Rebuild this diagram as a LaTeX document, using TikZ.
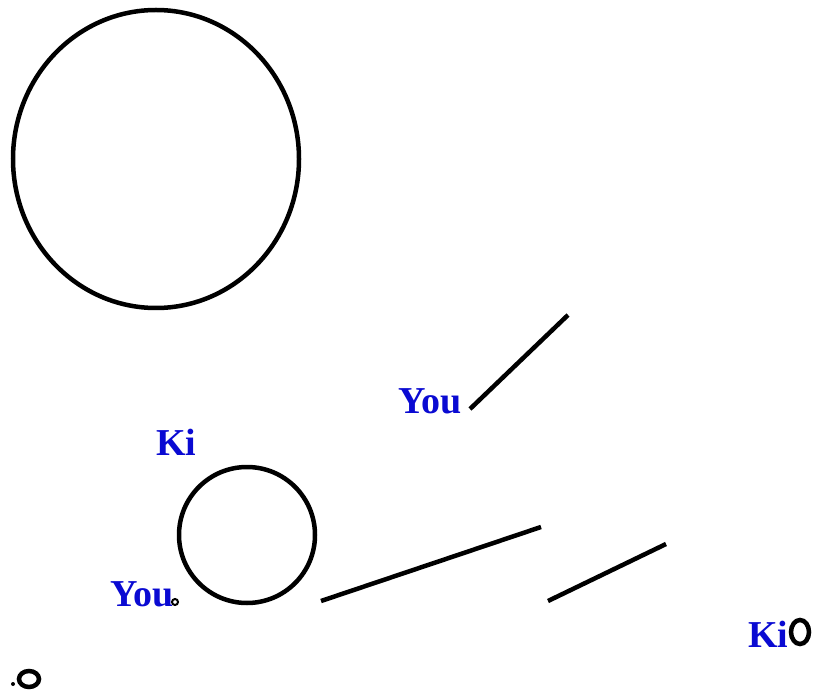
\documentclass[tikz,border=0pt]{standalone}
\usepackage{fontspec}
\setmainfont{Liberation Serif}
\definecolor{labelblue}{RGB}{10,10,210}
\tikzset{
    stroke/.style={line width=4.5pt, black},
    thin stroke/.style={line width=2pt, black},
    name label/.style={text=labelblue, font=\bfseries\fontsize{38}{38}\selectfont, inner sep=0pt, anchor=base west}
}
\begin{document}
\begin{tikzpicture}[x=1pt, y=-1pt]
    \useasboundingbox (0,0) rectangle (816,692);

    % Circles
    \draw[stroke] (156,159) ellipse [x radius=143, y radius=149];
    \draw[stroke] (247,535) circle [radius=68];

    % Line segments
    \draw[stroke] (470,409) -- (568,315);
    \draw[stroke] (321,601) -- (541,527);
    \draw[stroke] (548,601) -- (666,544);

    % Small marks
    \draw[thin stroke] (175,602) circle [radius=3];
    \draw[stroke] (800,632) ellipse [x radius=9, y radius=12];
    \draw[stroke] (29,679) ellipse [x radius=10, y radius=8];
    \fill (13,684) circle [radius=2];

    % Labels
    \node[name label] (you1) at (398,413) {You};
    \node[name label] (ki1) at (156,455) {Ki};
    \node[name label] (you2) at (110,606) {You};
    \node[name label] (ki2) at (748,647) {Ki};
\end{tikzpicture}
\end{document}
